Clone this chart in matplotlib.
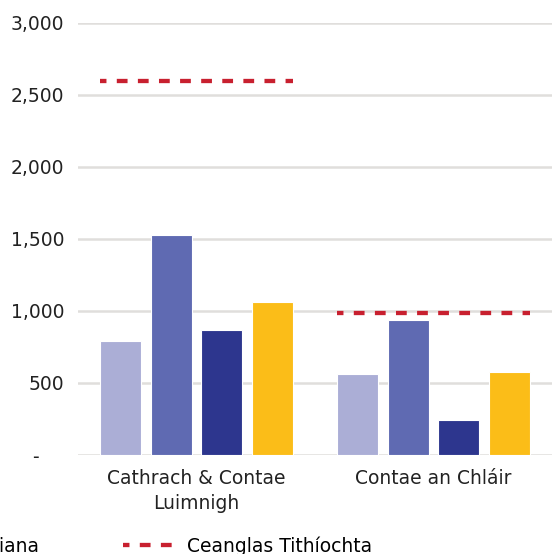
import matplotlib.pyplot as plt
from matplotlib.lines import Line2D
from matplotlib.patches import Patch
import numpy as np

# data
categories = ['Cathrach & Contae\nLuimnigh', 'Contae an Chláir']
series_a = [790, 560]
series_b = [1530, 935]
series_c = [870, 243]
series_d = [1062, 578]
requirement = [2600, 985]
yticks = [0, 500, 1000, 1500, 2000, 2500, 3000]
ytick_labels = ['-    ', '500', '1,000', '1,500', '2,000', '2,500', '3,000']

colours = ['#ABAED6', '#5F6AB2', '#2D368E', '#FBBD18']
red = '#C8202F'
dash = (1.0, (2.5, 2.4))

plt.rcParams['font.family'] = ['DejaVu Sans']

fig = plt.figure(figsize=(5.54, 5.54), dpi=100)
ax = fig.add_axes([0.1408, 0.1787, 0.8556, 0.7798])

x = np.arange(len(categories))
slot = 0.215
width = 0.173
for i, vals in enumerate([series_a, series_b, series_c, series_d]):
    ax.bar(x + (i - 1.5) * slot, vals, width, color=colours[i],
           edgecolor='white', linewidth=0.8, zorder=3)

# housing requirement dashed line across each group
for xi, r in zip(x, requirement):
    ax.hlines(r, xi - 1.5 * slot - width / 2, xi + 1.5 * slot + width / 2,
              colors=red, linestyles=dash, linewidth=3.1, zorder=4)

ax.set_xlim(-0.5, 1.5)
ax.set_ylim(0, 3000)
ax.set_yticks(yticks)
ax.set_yticklabels(ytick_labels)
ax.set_xticks(x)
ax.set_xticklabels(categories, linespacing=1.4)
ax.tick_params(axis='both', length=0, labelsize=13.5, colors='#222222')
ax.tick_params(axis='y', pad=10)
ax.tick_params(axis='x', pad=10)
ax.yaxis.grid(True, color='#E0DEDC', linewidth=1.8, zorder=0)
ax.set_axisbelow(True)
for s in ax.spines.values():
    s.set_visible(False)

handles = [Patch(color=colours[3]),
           Line2D([0], [0], color=red, linestyle=dash, linewidth=3.1)]
leg = fig.legend(handles, ['Meán 5 bliana', 'Ceanglas Tithíochta'], ncol=2,
                 loc='upper right', bbox_to_anchor=(0.702, 0.062), frameon=False,
                 fontsize=13.5, handlelength=2.8, handletextpad=0.6,
                 columnspacing=4.5)

fig.savefig('out.png', dpi=100)
